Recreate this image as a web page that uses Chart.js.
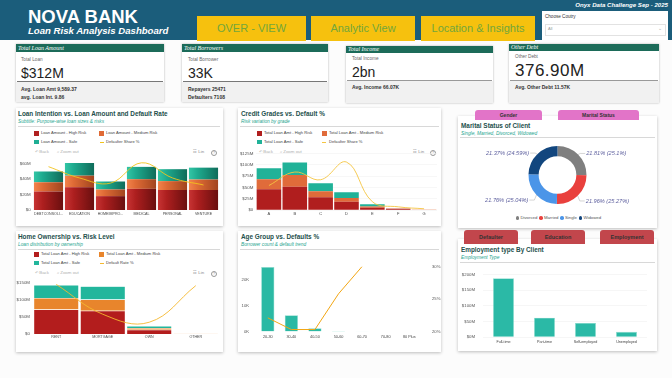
<!DOCTYPE html>
<html><head><meta charset="utf-8">
<script src="https://cdn.jsdelivr.net/npm/chart.js@4.4.1/dist/chart.umd.min.js"></script>
<style>
html,body{margin:0;padding:0;}
body{width:672px;height:378px;position:relative;overflow:hidden;background:#fcfcfc;font-family:'Liberation Sans',Arial,sans-serif;}
.a{position:absolute;white-space:nowrap;}
.btn{top:16px;height:25px;background:#f6c10e;color:#72a63c;font-size:11px;line-height:25px;text-align:center;}
.card{background:#fff;box-shadow:0 0 2px rgba(0,0,0,.3);}
.ch{background:#1c6b59;color:#fff;font-family:'Liberation Serif',serif;font-style:italic;font-size:6px;box-sizing:border-box;padding-left:2px;}
.cl{font-size:4.7px;color:#666;line-height:6px;}
.cv{font-size:14px;color:#222;line-height:14px;}
.cb{font-size:5px;font-weight:bold;color:#333;line-height:6px;}
.panel{background:#fff;box-shadow:0 1px 3px rgba(0,0,0,.25);}
.tt{font-size:6.4px;font-weight:bold;color:#244f4c;line-height:8px;}
.st{font-size:4.8px;font-style:italic;color:#26a58f;line-height:6px;}
.sep{height:1px;background:#d8d8d8;}
.lg{font-size:4.1px;color:#444;line-height:6px;}
.sq{width:4.5px;height:4.5px;}
.tb{font-size:4.4px;color:#b0b0b0;line-height:6px;}
.tab{text-align:center;font-weight:bold;color:#333;border-radius:3px 3px 0 0;}
canvas{position:absolute;}
</style>
</head>
<body>
<!-- header -->
<div class="a" style="left:0;top:0;width:672px;height:40px;background:#1b5d7b;"></div>
<div class="a" style="left:28px;top:7px;font-size:18.5px;font-weight:bold;color:#fff;line-height:20px;">NOVA BANK</div>
<div class="a" style="left:28px;top:25px;font-size:9.6px;font-weight:bold;font-style:italic;color:#fff;line-height:11px;">Loan Risk Analysis Dashboard</div>
<div class="a" style="right:4px;top:1px;font-size:6.1px;font-weight:bold;font-style:italic;color:#fff;line-height:8px;">Onyx Data Challenge Sep - 2025</div>
<div class="a btn" style="left:197px;width:109px;">OVER - VIEW</div>
<div class="a btn" style="left:311px;width:104px;">Analytic View</div>
<div class="a btn" style="left:421px;width:114px;">Location &amp; Insights</div>
<div class="a" style="left:542px;top:11px;width:126px;height:29px;background:#fff;"></div>
<div class="a" style="left:545px;top:14px;font-size:4.6px;color:#333;line-height:6px;">Choose Coutry</div>
<div class="a" style="left:545px;top:24px;width:119px;height:10px;border:1px solid #e2e2e2;"></div>
<div class="a" style="left:548px;top:26px;font-size:4px;color:#999;line-height:6px;">All</div>
<div class="a" style="left:658px;top:25px;font-size:5px;color:#aaa;line-height:6px;">⌄</div>

<!-- KPI cards -->
<div class="a card" style="left:16px;top:44px;width:148px;height:58px;"></div>
<div class="a ch" style="left:16px;top:44px;width:148px;height:8px;line-height:8px;">Total Loan Amount</div>
<div class="a" style="left:16px;top:82px;width:148px;height:20px;background:#f1f1f1;"></div>
<div class="a" style="left:17px;top:81px;width:146px;height:1px;background:#777;"></div>
<div class="a cl" style="left:21px;top:57px;">Total Loan</div>
<div class="a cv" style="left:21px;top:66px;">$312M</div>
<div class="a cb" style="left:21px;top:86px;">Avg. Loan Amt 9,589.37</div>
<div class="a cb" style="left:21px;top:94px;">avg. Loan Int. 9.86</div>

<div class="a card" style="left:182px;top:44px;width:146px;height:58px;"></div>
<div class="a ch" style="left:182px;top:44px;width:146px;height:8px;line-height:8px;">Total Borrowers</div>
<div class="a" style="left:182px;top:82px;width:146px;height:20px;background:#f1f1f1;"></div>
<div class="a" style="left:183px;top:81px;width:144px;height:1px;background:#777;"></div>
<div class="a cl" style="left:188px;top:57px;">Total Borrower</div>
<div class="a cv" style="left:188px;top:66px;">33K</div>
<div class="a cb" style="left:188px;top:86px;">Repayers 25471</div>
<div class="a cb" style="left:188px;top:94px;">Defaulters 7108</div>

<div class="a card" style="left:346px;top:46px;width:147px;height:57px;"></div>
<div class="a ch" style="left:346px;top:46px;width:147px;height:7px;line-height:7px;">Total Income</div>
<div class="a" style="left:346px;top:81px;width:147px;height:22px;background:#f1f1f1;"></div>
<div class="a" style="left:347px;top:80px;width:145px;height:1px;background:#999;"></div>
<div class="a cl" style="left:352px;top:56px;">Total Income</div>
<div class="a cv" style="left:352px;top:65px;">2bn</div>
<div class="a cb" style="left:352px;top:84px;">Avg. Income 66.07K</div>

<div class="a card" style="left:509px;top:44px;width:150px;height:59px;"></div>
<div class="a ch" style="left:509px;top:44px;width:150px;height:6.5px;line-height:6.5px;">Other Debt</div>
<div class="a" style="left:509px;top:81px;width:150px;height:22px;background:#f1f1f1;"></div>
<div class="a" style="left:510px;top:80px;width:148px;height:1px;background:#999;"></div>
<div class="a cl" style="left:515px;top:54px;">Other Debt</div>
<div class="a cv" style="left:515px;top:62px;font-size:17px;line-height:17px;letter-spacing:0.5px;">376.90M</div>
<div class="a cb" style="left:515px;top:84px;">Avg. Other Debt 11.57K</div>

<!-- Panel 1 -->
<div class="a panel" style="left:16px;top:108px;width:207px;height:118px;"></div>
<div class="a tt" style="left:18px;top:110px;">Loan Intention vs. Loan Amount and Default Rate</div>
<div class="a st" style="left:18px;top:119px;">Subtitle: Purpose-wise loan sizes &amp; risks</div>
<div class="a sep" style="left:18px;top:126px;width:202px;"></div>
<div class="a sq" style="left:34px;top:131px;background:#b02020;"></div>
<div class="a lg" style="left:41px;top:130px;">Loan Amount - High Risk</div>
<div class="a sq" style="left:99px;top:131px;background:#e06a35;"></div>
<div class="a lg" style="left:106px;top:130px;">Loan Amount - Medium Risk</div>
<div class="a sq" style="left:34px;top:139.5px;background:#1fae94;"></div>
<div class="a lg" style="left:41px;top:138.7px;">Loan Amount - Safe</div>
<div class="a" style="left:100px;top:141.5px;width:4px;height:1px;background:#f2c31c;"></div>
<div class="a lg" style="left:106px;top:138.7px;">Defaulter Share %</div>
<div class="a tb" style="left:35px;top:149.3px;">↶ Back</div>
<div class="a tb" style="left:57px;top:149.3px;">⌕ Zoom out</div>
<div class="a tb" style="left:193px;top:149.3px;color:#888;">☷ Lin</div>
<div class="a tb" style="left:211px;top:149.6px;width:4px;height:4px;line-height:4px;border:0.6px solid #999;border-radius:50%;text-align:center;font-size:3.5px;color:#888;">?</div>
<canvas id="c1" width="208" height="65" style="left:14px;top:155px;"></canvas>

<!-- Panel 2 -->
<div class="a panel" style="left:238px;top:108px;width:203px;height:118px;"></div>
<div class="a tt" style="left:241px;top:110px;">Credit Grades vs. Default %</div>
<div class="a st" style="left:241px;top:119px;">Risk variation by grade</div>
<div class="a sep" style="left:240px;top:126px;width:199px;"></div>
<div class="a sq" style="left:257px;top:131px;background:#b01e1e;"></div>
<div class="a lg" style="left:264px;top:130px;">Total Loan Amt - High Risk</div>
<div class="a sq" style="left:322px;top:131px;background:#e06b3a;"></div>
<div class="a lg" style="left:329px;top:130px;">Total Loan Amt - Medium Risk</div>
<div class="a sq" style="left:257px;top:139.5px;background:#20b298;"></div>
<div class="a lg" style="left:264px;top:138.7px;">Total Loan Amt - Safe</div>
<div class="a" style="left:322px;top:141.5px;width:4px;height:1px;background:#f5c542;"></div>
<div class="a lg" style="left:329px;top:138.7px;">Defaulter Share %</div>
<div class="a tb" style="left:259px;top:149.3px;">↶ Back</div>
<div class="a tb" style="left:280px;top:149.3px;">⌕ Zoom out</div>
<div class="a tb" style="left:413px;top:149.3px;color:#888;">☷ Lin</div>
<div class="a tb" style="left:430px;top:149.6px;width:4px;height:4px;line-height:4px;border:0.6px solid #999;border-radius:50%;text-align:center;font-size:3.5px;color:#888;">?</div>
<canvas id="c2" width="203" height="72" style="left:238px;top:148px;"></canvas>

<!-- Panel 3 -->
<div class="a panel" style="left:458px;top:116px;width:199px;height:112px;"></div>
<div class="a tab" style="left:475px;top:110px;width:67px;height:10px;line-height:10px;font-size:5px;background:#e274c8;">Gender</div>
<div class="a tab" style="left:558px;top:110px;width:81px;height:10px;line-height:10px;font-size:5px;background:#e274c8;">Marital Status</div>
<div class="a tt" style="left:461px;top:122px;">Marital Status of Client</div>
<div class="a st" style="left:461px;top:130.5px;">Single, Married, Divorced, Widowed</div>
<div class="a sep" style="left:460px;top:137px;width:195px;"></div>
<canvas id="c3" width="199" height="58" style="left:458px;top:146px;"></canvas>
<div class="a" id="dlg" style="left:458px;top:215px;width:199px;text-align:center;font-size:4.3px;color:#555;line-height:6px;"></div>

<!-- Panel 4 -->
<div class="a panel" style="left:16px;top:231px;width:207px;height:121px;"></div>
<div class="a tt" style="left:18px;top:233px;">Home Ownership vs. Risk Level</div>
<div class="a st" style="left:18px;top:241.5px;">Loan distribution by ownership</div>
<div class="a sep" style="left:18px;top:248.5px;width:202px;"></div>
<div class="a sq" style="left:34px;top:252px;background:#b31d1d;"></div>
<div class="a lg" style="left:41px;top:251px;">Total Loan Amt - High Risk</div>
<div class="a sq" style="left:99px;top:252px;background:#e8852c;"></div>
<div class="a lg" style="left:106px;top:251px;">Total Loan Amt - Medium Risk</div>
<div class="a sq" style="left:34px;top:260.5px;background:#22b69c;"></div>
<div class="a lg" style="left:41px;top:259.7px;">Total Loan Amt - Safe</div>
<div class="a" style="left:100px;top:262.5px;width:4px;height:1px;background:#f5b82e;"></div>
<div class="a lg" style="left:106px;top:259.7px;">Default Rate %</div>
<div class="a tb" style="left:35px;top:270.3px;">↶ Back</div>
<div class="a tb" style="left:57px;top:270.3px;">⌕ Zoom out</div>
<div class="a tb" style="left:193px;top:270.3px;color:#888;">☷ Lin</div>
<div class="a tb" style="left:211px;top:270.6px;width:4px;height:4px;line-height:4px;border:0.6px solid #999;border-radius:50%;text-align:center;font-size:3.5px;color:#888;">?</div>
<canvas id="c4" width="208" height="70" style="left:14px;top:275px;"></canvas>

<!-- Panel 5 -->
<div class="a panel" style="left:238px;top:231px;width:203px;height:121px;"></div>
<div class="a tt" style="left:241px;top:233px;">Age Group vs. Defaults %</div>
<div class="a st" style="left:241px;top:241.5px;">Borrower count &amp; default trend</div>
<div class="a sep" style="left:240px;top:248.5px;width:199px;"></div>
<canvas id="c5" width="203" height="92" style="left:238px;top:253px;"></canvas>

<!-- Panel 6 -->
<div class="a panel" style="left:458px;top:239px;width:199px;height:112px;"></div>
<div class="a tab" style="left:464px;top:230px;width:54px;height:14px;line-height:14px;font-size:5.5px;background:#c2464c;">Defaulter</div>
<div class="a tab" style="left:531px;top:230px;width:54px;height:14px;line-height:14px;font-size:5.5px;background:#c2464c;">Education</div>
<div class="a tab" style="left:600px;top:230px;width:54px;height:14px;line-height:14px;font-size:5.5px;background:#c2464c;">Employment</div>
<div class="a tt" style="left:461px;top:245.5px;">Employment type By Client</div>
<div class="a st" style="left:461px;top:254.5px;">Employment Type</div>
<div class="a sep" style="left:460px;top:261.5px;width:195px;"></div>
<canvas id="c6" width="195" height="84" style="left:458px;top:264px;"></canvas>

<script>
// ---------- DATA ----------
const intentLabels = ['DEBTCONSOLI...','EDUCATION','HOMEIMPRO...','MEDICAL','PERSONAL','VENTURE'];
const intentHigh = [24, 29.6, 18, 27.5, 26, 26];
const intentMedium = [12, 15, 8.7, 12.5, 11.5, 13.6];
const intentSafe = [14, 16.4, 10.3, 16, 15.5, 15.4];
const intentDefaultShare = [30.3, 22.4, 18.8, 33, 22.4, 17.5];
const intentTicks = [0, 20, 40, 60];

const gradeLabels = ['A','B','C','D','E','F','G'];
const gradeHigh = [46, 51.5, 28, 18.2, 4.9, 2.5, 0.8];
const gradeMedium = [22, 25.5, 13.5, 8.5, 2.7, 0.6, 0.15];
const gradeSafe = [24, 28, 17.5, 12.3, 5.1, 0.3, 0.05];
const gradeDefaultShare = [21.6, 33.5, 26.7, 42.3, 7.3, 2.8, 1.1];
const gradeTicks = [0, 25, 50, 75, 100, 125];

const maritalLabels = ['Divorced','Married','Single','Widowed'];
const maritalShare = [25.1, 25.27, 25.04, 24.59];
const maritalRate = ['21.81','21.96','21.76','21.37'];
const maritalColors = ['#7f7f7f','#e9403d','#4b95e8','#12467e'];

const homeLabels = ['RENT','MORTGAGE','OWN','OTHER'];
const homeHigh = [71, 67.6, 12, 0.3];
const homeMedium = [33.7, 32.4, 5.6, 0.2];
const homeSafe = [37.8, 39, 5.4, 0.9];
const homeDefaultRate = [31.6, 12.6, 7.5, 30.8];
const homeTicks = [0, 50, 100, 150];

const ageLabels = ['20-30','30-40','40-50','50-60','60-70','70-80','80 Plus'];
const ageCount = [24800, 6200, 1200, 220, 50, 20, 10];
const ageDefaultRate = [22.1, 20.3, 20.3, 25.8, 30, null, null];
const ageCountTicks = [0, 10000, 20000];

const empLabels = ['Full-time','Part-time','Self-employed','Unemployed'];
const empLoan = [188, 62, 45, 16.5];

// ---------- SETUP ----------
Chart.defaults.font.family = "'Liberation Sans', Arial, sans-serif";
Chart.defaults.color = '#555';
Chart.defaults.animation = false;
Chart.defaults.events = [];
Chart.defaults.plugins.legend.display = false;
Chart.defaults.plugins.tooltip.enabled = false;

const W = w => s => { s.width = w; };
const H = h => s => { s.height = h; };
const fixTicks = arr => s => { s.ticks = arr.map(v => ({value: v})); };
const noGrid = {display:false, drawTicks:false};
const noBorder = {display:false};

function cyl(light, base, dark, pct){
  return c => {
    const ch = c.chart, xs = ch.scales && ch.scales.x;
    if (c.type !== 'data' || !xs || !ch.chartArea || !isFinite(xs.width)) return base;
    const cx = xs.getPixelForValue(c.dataIndex);
    const w = xs.width / ch.data.labels.length * pct;
    if (!isFinite(cx)) return base;
    const g = ch.ctx.createLinearGradient(cx - w/2, 0, cx + w/2, 0);
    g.addColorStop(0, light); g.addColorStop(0.3, base); g.addColorStop(1, dark);
    return g;
  };
}

// ---------- CHART 1 ----------
new Chart(document.getElementById('c1'), {
  type:'bar',
  data:{labels:intentLabels, datasets:[
    {type:'line', label:'Defaulter Share %', data:intentDefaultShare, yAxisID:'y1', borderColor:'#f2c31c', borderWidth:0.9, pointRadius:0, tension:0.4, order:0},
    {label:'Loan Amount - High Risk', data:intentHigh, backgroundColor:cyl('#c73434','#ad1f1f','#6a0f0f',0.94), order:1},
    {label:'Loan Amount - Medium Risk', data:intentMedium, backgroundColor:cyl('#f3834b','#de6a35','#a2451f',0.94), order:1},
    {label:'Loan Amount - Safe', data:intentSafe, backgroundColor:cyl('#32c6a6','#1eaa8e','#0f6c5a',0.94), order:1}
  ]},
  options:{responsive:false, layout:{padding:{top:3,right:3,left:0,bottom:0}},
    datasets:{bar:{categoryPercentage:1, barPercentage:0.94}},
    scales:{
      x:{stacked:true, grid:noGrid, border:noBorder, ticks:{font:{size:3.6}, color:'#444', padding:1.5, maxRotation:0, autoSkip:false}, afterFit:H(10)},
      y:{stacked:true, min:0, max:65, afterBuildTicks:fixTicks(intentTicks), grid:noGrid, border:noBorder, ticks:{font:{size:4.4}, color:'#555', padding:2.3, callback:v => v===0 ? '$0' : '$'+v+'M'}, afterFit:W(19)},
      y1:{display:false, min:0, max:35}
    }}
});

// ---------- CHART 2 ----------
new Chart(document.getElementById('c2'), {
  type:'bar',
  data:{labels:gradeLabels, datasets:[
    {type:'line', label:'Defaulter Share %', data:gradeDefaultShare, yAxisID:'y1', borderColor:'#f5c542', borderWidth:0.9, pointRadius:0, tension:0.4, order:0},
    {label:'Total Loan Amt - High Risk', data:gradeHigh, backgroundColor:'#b01e1e', order:1},
    {label:'Total Loan Amt - Medium Risk', data:gradeMedium, backgroundColor:'#e06b3a', order:1},
    {label:'Total Loan Amt - Safe', data:gradeSafe, backgroundColor:'#20b298', order:1}
  ]},
  options:{responsive:false, layout:{padding:{top:4,right:4,left:0,bottom:0}},
    datasets:{bar:{categoryPercentage:1, barPercentage:0.95}},
    scales:{
      x:{stacked:true, grid:noGrid, border:noBorder, ticks:{font:{size:4}, color:'#444', padding:1.5, maxRotation:0, autoSkip:false}, afterFit:H(10)},
      y:{stacked:true, min:0, max:125, afterBuildTicks:fixTicks(gradeTicks), grid:{color:'#f1f1f1', drawTicks:false, lineWidth:0.6}, border:noBorder, ticks:{font:{size:4.4}, color:'#555', padding:2.7, callback:v => v===0 ? '$0' : '$'+v+'M'}, afterFit:W(18)},
      y1:{display:false, min:0, max:50}
    }}
});

// ---------- CHART 3 (donut) ----------
const donutLabels = {
  id:'donutLabels',
  afterDatasetsDraw(chart){
    const ctx = chart.ctx, meta = chart.getDatasetMeta(0);
    ctx.save();
    ctx.font = 'italic 5.6px "Liberation Sans", Arial, sans-serif';
    ctx.fillStyle = '#5d5f9e'; ctx.strokeStyle = '#aaa'; ctx.lineWidth = 0.5; ctx.textBaseline = 'middle';
    meta.data.forEach((arc, i) => {
      const p = arc.getProps(['x','y','startAngle','endAngle','outerRadius'], true);
      const mid = (p.startAngle + p.endAngle) / 2;
      const c = Math.cos(mid), s = Math.sin(mid);
      const x0 = p.x + c*p.outerRadius, y0 = p.y + s*p.outerRadius;
      const x1 = p.x + c*(p.outerRadius+3), y1 = p.y + s*(p.outerRadius+3) + (s>0?1.5:-0.5) + 1.5;
      const dir = c >= 0 ? 1 : -1;
      const x2 = x1 + dir*5;
      ctx.beginPath(); ctx.moveTo(x0,y0); ctx.lineTo(x1,y1); ctx.lineTo(x2,y1); ctx.stroke();
      ctx.textAlign = dir > 0 ? 'left' : 'right';
      ctx.fillText(maritalRate[i] + '% (' + maritalShare[i] + '%)', x2 + dir*1, y1);
    });
    ctx.restore();
  }
};
new Chart(document.getElementById('c3'), {
  type:'doughnut',
  data:{labels:maritalLabels, datasets:[{data:maritalShare, backgroundColor:maritalColors, borderWidth:0}]},
  options:{responsive:false, cutout:'65%', layout:{padding:0}},
  plugins:[donutLabels]
});
document.getElementById('dlg').innerHTML = maritalLabels.map((l,i) =>
  '<span style="display:inline-block;width:3.5px;height:3.5px;border-radius:50%;background:'+maritalColors[i]+';margin:0 1px 0 2px;vertical-align:middle;"></span>' + l).join('');

// ---------- CHART 4 ----------
new Chart(document.getElementById('c4'), {
  type:'bar',
  data:{labels:homeLabels, datasets:[
    {type:'line', label:'Default Rate %', data:homeDefaultRate, yAxisID:'y1', borderColor:'#f5b82e', borderWidth:0.9, pointRadius:0, tension:0.4, order:0},
    {label:'Total Loan Amt - High Risk', data:homeHigh, backgroundColor:'#b31d1d', borderColor:'rgba(255,255,255,0.7)', borderWidth:0.5, order:1},
    {label:'Total Loan Amt - Medium Risk', data:homeMedium, backgroundColor:'#e8852c', borderColor:'rgba(255,255,255,0.7)', borderWidth:0.5, order:1},
    {label:'Total Loan Amt - Safe', data:homeSafe, backgroundColor:'#22b69c', borderColor:'rgba(255,255,255,0.7)', borderWidth:0.5, order:1}
  ]},
  options:{responsive:false, layout:{padding:{top:3,right:3,left:0,bottom:0}},
    datasets:{bar:{categoryPercentage:1, barPercentage:0.97}},
    scales:{
      x:{stacked:true, grid:noGrid, border:noBorder, ticks:{font:{size:3.6}, color:'#444', padding:0.5, maxRotation:0, autoSkip:false}, afterFit:H(11)},
      y:{stacked:true, min:0, max:155, afterBuildTicks:fixTicks(homeTicks), grid:noGrid, border:noBorder, ticks:{font:{size:4.4}, color:'#555', padding:3, callback:v => v===0 ? '$0' : '$'+v+'M'}, afterFit:W(19)},
      y1:{display:false, min:0, max:34}
    }}
});

// ---------- CHART 5 ----------
new Chart(document.getElementById('c5'), {
  type:'bar',
  data:{labels:ageLabels, datasets:[
    {type:'line', label:'Default %', data:ageDefaultRate, yAxisID:'y1', borderColor:'#f2a614', borderWidth:1, pointRadius:0, tension:0, order:0},
    {label:'Borrowers', data:ageCount, backgroundColor:'#2bb9a4', borderColor:'#86d9cb', borderWidth:0.6, yAxisID:'y', order:1}
  ]},
  options:{responsive:false, layout:{padding:{top:3,right:0,left:0,bottom:0}},
    datasets:{bar:{categoryPercentage:1, barPercentage:0.56}},
    scales:{
      x:{grid:noGrid, border:noBorder, ticks:{font:{size:3.8}, color:'#444', padding:3, maxRotation:0, autoSkip:false}, afterFit:H(10)},
      y:{position:'left', min:0, max:25000, afterBuildTicks:fixTicks(ageCountTicks), grid:noGrid, border:noBorder, ticks:{font:{size:4.2}, color:'#555', padding:7, callback:v => (v/1000)+'K'}, afterFit:W(18)},
      y1:{position:'right', min:20, max:30, afterBuildTicks:fixTicks([20,25,30]), grid:noGrid, border:noBorder, ticks:{font:{size:4.2}, color:'#555', padding:11, callback:v => v+'%'}, afterFit:W(20)}
    }}
});

// ---------- CHART 6 ----------
new Chart(document.getElementById('c6'), {
  type:'bar',
  data:{labels:empLabels, datasets:[
    {label:'Loan Amount', data:empLoan, backgroundColor:'#2bb9a6', borderColor:'#8adccd', borderWidth:0.6}
  ]},
  options:{responsive:false, layout:{padding:{top:3,right:6,left:0,bottom:0}},
    datasets:{bar:{categoryPercentage:1, barPercentage:0.51}},
    scales:{
      x:{grid:noGrid, border:noBorder, ticks:{font:{size:3.7}, color:'#444', padding:3, maxRotation:0, autoSkip:false}, afterFit:H(11)},
      y:{min:0, max:200, afterBuildTicks:fixTicks([0,50,100,150,200]), grid:{color:'#f0f0f0', drawTicks:false, lineWidth:0.6}, border:noBorder, ticks:{font:{size:4.3}, color:'#555', padding:8, callback:v => '$'+v+'M'}, afterFit:W(25)}
    }}
});
</script>
</body></html>
